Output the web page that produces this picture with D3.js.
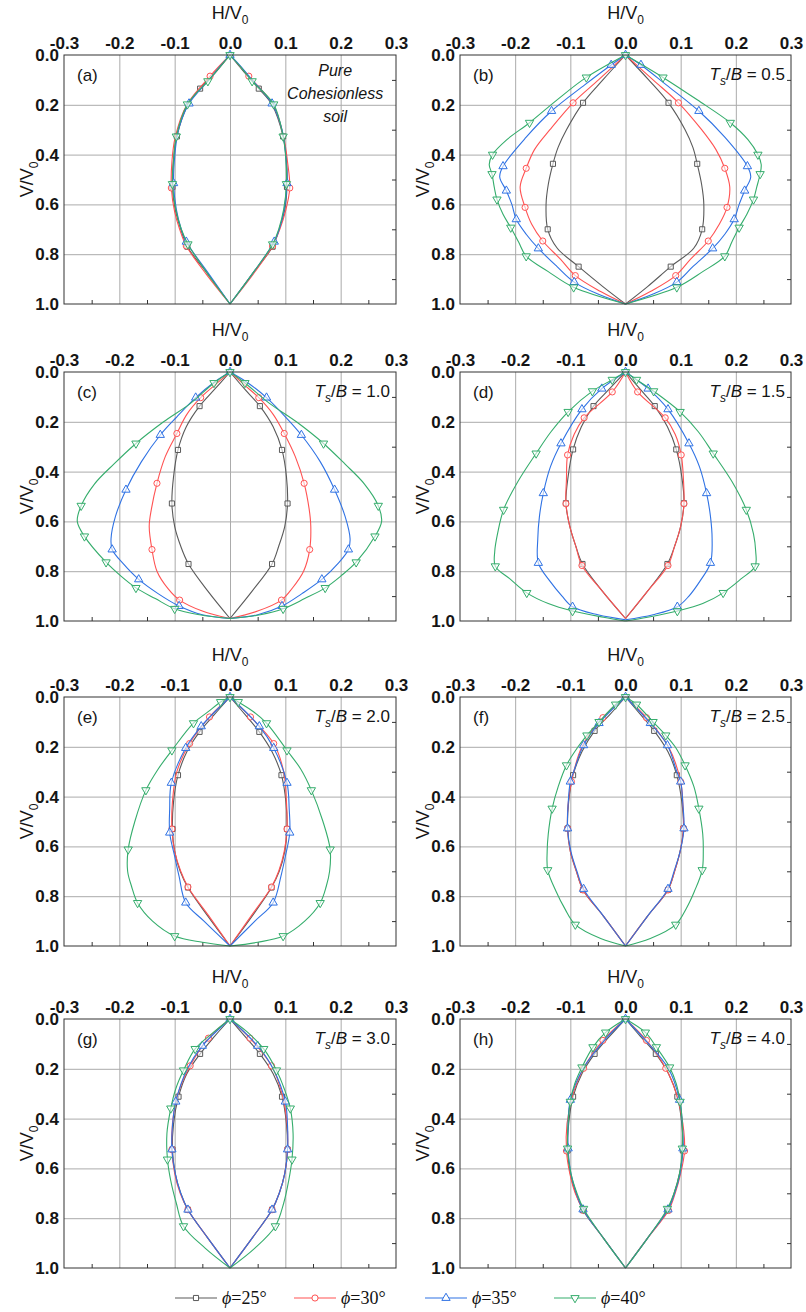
<!DOCTYPE html>
<html>
<head>
<meta charset="utf-8">
<script src="https://cdn.jsdelivr.net/npm/d3@7"></script>
<style>
  html, body { margin: 0; padding: 0; background: #fff; }
  svg { display: block; }
</style>
</head>
<body>
<div id="chart"></div>
<script>
// ---------------- DATA ----------------
const panelTags = ["(a)", "(b)", "(c)", "(d)", "(e)", "(f)", "(g)", "(h)"];
const tsbValues = [null, "0.5", "1.0", "1.5", "2.0", "2.5", "3.0", "4.0"];
const phiValues = ["25", "30", "35", "40"];
const xTicks = [-0.3, -0.2, -0.1, 0.0, 0.1, 0.2, 0.3];
const yTicks = [0.0, 0.2, 0.4, 0.6, 0.8, 1.0];
const xMinorTicks = [-0.25, -0.15, -0.05, 0.05, 0.15, 0.25];
const yMinorTicks = [0.1, 0.3, 0.5, 0.7, 0.9];
const pureSoilNote = ["Pure", "Cohesionless", "soil"];

// Each row: [V/V0, H/V0 (right branch), H/V0 (left branch), marker flag]
const phi25 = [
  [[0,0,0,0],[0.07,0.026,-0.026,0],[0.135,0.052,-0.054,1],[0.2,0.076,-0.076,0],[0.327,0.096,-0.096,1],[0.42,0.102,-0.102,0],[0.53,0.103,-0.104,1],[0.62,0.099,-0.099,0],[0.7,0.089,-0.089,0],[0.77,0.077,-0.077,1],[0.88,0.04,-0.04,0],[1,0,0,0]],
  [[0,0,0,0],[0.1,0.042,-0.041,0],[0.192,0.078,-0.077,1],[0.3,0.108,-0.107,0],[0.37,0.122,-0.122,0],[0.437,0.13,-0.1315,1],[0.52,0.138,-0.14,0],[0.6,0.142,-0.144,0],[0.7,0.139,-0.141,1],[0.775,0.124,-0.124,0],[0.85,0.082,-0.085,1],[0.93,0.04,-0.041,0],[1,0,0,0]],
  [[0,0,0,0],[0.07,0.027,-0.028,0],[0.137,0.054,-0.055,1],[0.22,0.078,-0.079,0],[0.313,0.094,-0.094,1],[0.42,0.102,-0.102,0],[0.528,0.104,-0.105,1],[0.62,0.099,-0.1,0],[0.7,0.088,-0.089,0],[0.771,0.076,-0.075,1],[0.88,0.04,-0.04,0],[0.99,0,0,0]],
  [[0,0,0,0],[0.07,0.027,-0.03,0],[0.137,0.053,-0.058,1],[0.22,0.076,-0.08,0],[0.311,0.092,-0.095,1],[0.42,0.102,-0.104,0],[0.527,0.106,-0.108,1],[0.62,0.1,-0.101,0],[0.7,0.089,-0.09,0],[0.771,0.076,-0.078,1],[0.88,0.04,-0.042,0],[0.99,0,0,0]],
  [[0,0,0,0],[0.07,0.027,-0.028,0],[0.14,0.053,-0.055,1],[0.22,0.076,-0.078,0],[0.314,0.093,-0.094,1],[0.42,0.101,-0.102,0],[0.53,0.103,-0.104,1],[0.62,0.099,-0.1,0],[0.7,0.089,-0.09,0],[0.765,0.075,-0.076,1],[0.88,0.04,-0.04,0],[1,0,0,0]],
  [[0,0,0,0],[0.07,0.027,-0.028,0],[0.136,0.052,-0.056,1],[0.22,0.077,-0.079,0],[0.314,0.093,-0.095,1],[0.42,0.102,-0.103,0],[0.528,0.105,-0.105,1],[0.62,0.099,-0.1,0],[0.7,0.089,-0.089,0],[0.775,0.077,-0.077,1],[0.88,0.04,-0.04,0],[1,0,0,0]],
  [[0,0,0,0],[0.07,0.027,-0.028,0],[0.14,0.054,-0.054,1],[0.22,0.078,-0.078,0],[0.312,0.094,-0.093,1],[0.42,0.102,-0.102,0],[0.524,0.104,-0.104,1],[0.62,0.099,-0.099,0],[0.7,0.089,-0.089,0],[0.766,0.076,-0.076,1],[0.88,0.04,-0.04,0],[1,0,0,0]],
  [[0,0,0,0],[0.07,0.027,-0.029,0],[0.14,0.055,-0.056,1],[0.22,0.078,-0.079,0],[0.312,0.094,-0.095,1],[0.42,0.102,-0.103,0],[0.528,0.104,-0.105,1],[0.62,0.098,-0.1,0],[0.7,0.088,-0.09,0],[0.768,0.076,-0.077,1],[0.88,0.04,-0.04,0],[1,0,0,0]]
];
const phi30 = [
  [[0,0,0,0],[0.085,0.034,-0.036,1],[0.2,0.078,-0.078,0],[0.33,0.097,-0.099,0],[0.43,0.104,-0.105,0],[0.534,0.108,-0.106,1],[0.63,0.1,-0.1,0],[0.7,0.09,-0.091,0],[0.767,0.077,-0.079,1],[0.88,0.042,-0.043,0],[1,0,0,0]],
  [[0,0,0,0],[0.1,0.05,-0.049,0],[0.192,0.096,-0.095,1],[0.3,0.138,-0.137,0],[0.38,0.164,-0.165,0],[0.455,0.18,-0.18,1],[0.53,0.189,-0.191,0],[0.612,0.184,-0.182,1],[0.68,0.17,-0.17,0],[0.747,0.15,-0.15,1],[0.82,0.118,-0.118,0],[0.886,0.091,-0.091,1],[0.95,0.045,-0.045,0],[1,0,0,0]],
  [[0,0,0,0],[0.05,0.025,-0.026,0],[0.103,0.052,-0.053,1],[0.17,0.078,-0.078,0],[0.247,0.098,-0.096,1],[0.34,0.118,-0.117,0],[0.447,0.134,-0.132,1],[0.55,0.143,-0.142,0],[0.62,0.146,-0.146,0],[0.713,0.144,-0.141,1],[0.8,0.133,-0.132,0],[0.87,0.112,-0.112,0],[0.916,0.093,-0.091,1],[0.96,0.05,-0.05,0],[0.99,0,0,0]],
  [[0,0,0,0],[0.08,0.022,-0.024,1],[0.184,0.072,-0.075,1],[0.25,0.09,-0.093,0],[0.333,0.101,-0.105,1],[0.43,0.105,-0.107,0],[0.529,0.106,-0.108,1],[0.62,0.1,-0.101,0],[0.7,0.089,-0.09,0],[0.777,0.077,-0.079,1],[0.88,0.04,-0.042,0],[0.99,0,0,0]],
  [[0,0,0,0],[0.08,0.037,-0.037,1],[0.187,0.079,-0.073,1],[0.3,0.097,-0.096,0],[0.42,0.102,-0.104,0],[0.53,0.103,-0.105,1],[0.62,0.098,-0.1,0],[0.7,0.088,-0.089,0],[0.763,0.075,-0.076,1],[0.88,0.038,-0.038,0],[1,0,0,0]],
  [[0,0,0,0],[0.083,0.038,-0.041,1],[0.2,0.078,-0.079,0],[0.34,0.1,-0.098,1],[0.43,0.104,-0.104,0],[0.528,0.105,-0.105,1],[0.62,0.099,-0.1,0],[0.7,0.089,-0.089,0],[0.775,0.077,-0.077,1],[0.88,0.04,-0.04,0],[1,0,0,0]],
  [[0,0,0,0],[0.077,0.036,-0.039,1],[0.188,0.075,-0.072,1],[0.3,0.094,-0.094,0],[0.42,0.103,-0.104,0],[0.524,0.104,-0.105,1],[0.62,0.099,-0.1,0],[0.7,0.089,-0.09,0],[0.766,0.076,-0.076,1],[0.88,0.04,-0.04,0],[1,0,0,0]],
  [[0,0,0,0],[0.086,0.038,-0.041,1],[0.198,0.073,-0.076,1],[0.3,0.092,-0.095,0],[0.42,0.104,-0.106,0],[0.53,0.107,-0.107,1],[0.62,0.1,-0.101,0],[0.7,0.09,-0.091,0],[0.769,0.078,-0.076,1],[0.88,0.04,-0.04,0],[1,0,0,0]]
];
const phi35 = [
  [[0,0,0,1],[0.04,0.017,-0.016,0],[0.1,0.04,-0.038,0],[0.195,0.076,-0.074,1],[0.3,0.094,-0.093,0],[0.41,0.101,-0.1,0],[0.515,0.103,-0.102,1],[0.62,0.098,-0.097,0],[0.7,0.089,-0.088,0],[0.75,0.08,-0.079,1],[0.88,0.04,-0.038,0],[1,0,0,0]],
  [[0,0,0,1],[0.04,0.028,-0.026,1],[0.12,0.074,-0.074,0],[0.225,0.133,-0.134,1],[0.33,0.18,-0.18,0],[0.447,0.221,-0.222,1],[0.49,0.227,-0.228,0],[0.545,0.216,-0.216,1],[0.6,0.206,-0.206,0],[0.66,0.197,-0.198,1],[0.72,0.18,-0.18,0],[0.777,0.158,-0.158,1],[0.85,0.122,-0.124,0],[0.912,0.093,-0.093,1],[0.96,0.05,-0.05,0],[1,0,0,0]],
  [[0,0,0,1],[0.04,0.03,-0.028,0],[0.103,0.066,-0.062,1],[0.18,0.1,-0.096,0],[0.253,0.129,-0.126,1],[0.36,0.163,-0.16,0],[0.473,0.189,-0.188,1],[0.58,0.208,-0.207,0],[0.67,0.217,-0.215,0],[0.713,0.214,-0.213,1],[0.77,0.195,-0.193,0],[0.833,0.166,-0.165,1],[0.89,0.13,-0.13,0],[0.94,0.094,-0.092,1],[0.975,0.05,-0.05,0],[0.99,0,0,0]],
  [[0,0,0,1],[0.067,0.041,-0.043,1],[0.15,0.077,-0.079,1],[0.287,0.115,-0.117,1],[0.38,0.134,-0.136,0],[0.487,0.147,-0.149,1],[0.58,0.154,-0.156,0],[0.67,0.157,-0.159,0],[0.767,0.154,-0.158,1],[0.84,0.135,-0.137,0],[0.9,0.115,-0.115,0],[0.943,0.094,-0.096,1],[0.975,0.05,-0.05,0],[0.995,0,0,0]],
  [[0,0,0,1],[0.118,0.053,-0.052,1],[0.205,0.079,-0.08,1],[0.345,0.103,-0.106,1],[0.45,0.107,-0.109,0],[0.545,0.108,-0.109,1],[0.64,0.1,-0.1,0],[0.72,0.092,-0.092,0],[0.826,0.078,-0.08,1],[0.9,0.045,-0.047,0],[1,0,0,0]],
  [[0,0,0,1],[0.105,0.045,-0.048,1],[0.194,0.076,-0.076,1],[0.3,0.093,-0.094,0],[0.34,0.1,-0.1,1],[0.43,0.104,-0.104,0],[0.528,0.106,-0.105,1],[0.62,0.099,-0.099,0],[0.7,0.088,-0.088,0],[0.771,0.077,-0.076,1],[0.88,0.04,-0.04,0],[1,0,0,0]],
  [[0,0,0,1],[0.108,0.05,-0.05,1],[0.2,0.078,-0.077,0],[0.332,0.1,-0.098,1],[0.43,0.104,-0.104,0],[0.524,0.104,-0.105,1],[0.62,0.099,-0.099,0],[0.7,0.089,-0.089,0],[0.766,0.076,-0.076,1],[0.88,0.04,-0.04,0],[1,0,0,0]],
  [[0,0,0,1],[0.08,0.034,-0.036,0],[0.2,0.078,-0.077,0],[0.325,0.098,-0.1,1],[0.42,0.103,-0.104,0],[0.52,0.104,-0.104,1],[0.62,0.099,-0.099,0],[0.7,0.089,-0.089,0],[0.765,0.077,-0.077,1],[0.88,0.04,-0.04,0],[1,0,0,0]]
];
const phi40 = [
  [[0,0,0,1],[0.05,0.02,-0.019,0],[0.105,0.04,-0.04,1],[0.198,0.079,-0.077,1],[0.327,0.096,-0.097,1],[0.42,0.101,-0.102,0],[0.518,0.102,-0.104,1],[0.62,0.097,-0.098,0],[0.7,0.088,-0.088,0],[0.76,0.077,-0.076,1],[0.88,0.04,-0.04,0],[1,0,0,0]],
  [[0,0,0,1],[0.09,0.068,-0.071,1],[0.18,0.13,-0.124,0],[0.272,0.19,-0.174,1],[0.34,0.222,-0.215,0],[0.4,0.24,-0.241,1],[0.44,0.246,-0.247,0],[0.478,0.244,-0.242,1],[0.53,0.238,-0.238,0],[0.58,0.232,-0.233,1],[0.64,0.22,-0.222,0],[0.693,0.206,-0.208,1],[0.75,0.193,-0.194,0],[0.808,0.18,-0.18,1],[0.87,0.14,-0.14,0],[0.933,0.093,-0.094,1],[1,0,0,0]],
  [[0,0,0,1],[0.044,0.027,-0.029,1],[0.127,0.072,-0.072,0],[0.2,0.12,-0.12,0],[0.287,0.169,-0.17,1],[0.37,0.208,-0.21,0],[0.45,0.243,-0.245,0],[0.537,0.268,-0.269,1],[0.6,0.274,-0.276,0],[0.66,0.262,-0.263,1],[0.764,0.228,-0.224,1],[0.82,0.2,-0.197,0],[0.867,0.172,-0.17,1],[0.91,0.135,-0.135,0],[0.951,0.096,-0.1,1],[0.975,0.055,-0.055,0],[0.99,0,0,0]],
  [[0,0,0,1],[0.031,0.02,-0.024,1],[0.077,0.051,-0.06,1],[0.16,0.099,-0.104,1],[0.24,0.132,-0.135,0],[0.327,0.159,-0.162,1],[0.44,0.193,-0.195,0],[0.553,0.219,-0.221,1],[0.65,0.232,-0.232,0],[0.72,0.236,-0.237,0],[0.78,0.235,-0.236,1],[0.83,0.21,-0.21,0],[0.887,0.177,-0.179,1],[0.93,0.14,-0.14,0],[0.96,0.094,-0.096,1],[0.985,0.04,-0.04,0],[1,0,0,0]],
  [[0,0,0,1],[0.02,0.015,-0.017,1],[0.06,0.043,-0.04,0],[0.105,0.066,-0.066,1],[0.214,0.103,-0.105,1],[0.29,0.128,-0.13,0],[0.374,0.147,-0.152,1],[0.5,0.168,-0.172,0],[0.612,0.181,-0.184,1],[0.7,0.18,-0.185,0],[0.76,0.174,-0.178,0],[0.827,0.163,-0.167,1],[0.9,0.135,-0.14,0],[0.96,0.096,-0.1,1],[0.985,0.05,-0.05,0],[1,0,0,0]],
  [[0,0,0,1],[0.03,0.02,-0.018,1],[0.1,0.05,-0.048,1],[0.154,0.073,-0.07,1],[0.2,0.09,-0.086,0],[0.274,0.108,-0.107,1],[0.36,0.124,-0.122,0],[0.448,0.133,-0.133,1],[0.55,0.14,-0.14,0],[0.62,0.141,-0.142,0],[0.695,0.139,-0.141,1],[0.78,0.125,-0.126,0],[0.85,0.11,-0.11,0],[0.914,0.091,-0.091,1],[0.97,0.045,-0.045,0],[1,0,0,0]],
  [[0,0,0,1],[0.05,0.03,-0.028,0],[0.12,0.061,-0.063,1],[0.206,0.084,-0.084,1],[0.28,0.098,-0.098,0],[0.359,0.109,-0.107,1],[0.46,0.114,-0.114,0],[0.564,0.112,-0.113,1],[0.65,0.106,-0.107,0],[0.74,0.097,-0.097,0],[0.832,0.082,-0.084,1],[0.92,0.045,-0.045,0],[1,0,0,0]],
  [[0,0,0,1],[0.054,0.036,-0.036,1],[0.113,0.056,-0.059,1],[0.194,0.08,-0.079,1],[0.26,0.092,-0.092,0],[0.332,0.099,-0.1,1],[0.42,0.103,-0.104,0],[0.52,0.103,-0.105,1],[0.62,0.098,-0.099,0],[0.7,0.088,-0.088,0],[0.762,0.076,-0.076,1],[0.88,0.04,-0.04,0],[1,0,0,0]]
];

// ---------------- STYLE / LAYOUT ----------------
const seriesData = [phi25, phi30, phi35, phi40];
const seriesColors = ["#5a5a5a", "#ff5252", "#2f72e4", "#35ad6c"];
const seriesSymbols = [d3.symbolSquare, d3.symbolCircle, d3.symbolTriangle, d3.symbolTriangle];
const seriesSymbolSize = [26, 30, 30, 30];
const seriesSymbolRotate = [0, 0, 0, 180];

const W = 806, H = 1312;
const colX = [64, 460];
const colW = [332, 331];
const rowY = [55, 372, 697, 1019];
const plotH = 249;
const sansFont = "'Liberation Sans', Arial, Helvetica, sans-serif";
const serifFont = "'Liberation Serif', 'Times New Roman', serif";
const textColor = "#151515";

const svg = d3.select("#chart").append("svg")
  .attr("width", W).attr("height", H)
  .attr("viewBox", `0 0 ${W} ${H}`);

const fmt = d => d.toFixed(1).replace("\u2212", "-");

panelTags.forEach((tag, p) => {
  const col = p % 2, row = Math.floor(p / 2);
  const w = colW[col], h = plotH;
  const g = svg.append("g").attr("transform", `translate(${colX[col]},${rowY[row]})`);
  const x = d3.scaleLinear().domain([-0.3, 0.3]).range([0, w]);
  const y = d3.scaleLinear().domain([0, 1]).range([0, h]);

  // gridlines
  g.append("g").attr("class", "grid")
    .call(d3.axisTop(x).tickValues(xTicks.slice(1, -1)).tickSize(-h).tickFormat(""))
    .call(s => s.select(".domain").remove())
    .call(s => s.selectAll("line").attr("stroke", "#ababab").attr("stroke-width", 1));
  g.append("g").attr("class", "grid")
    .call(d3.axisLeft(y).tickValues(yTicks.slice(1, -1)).tickSize(-w).tickFormat(""))
    .call(s => s.select(".domain").remove())
    .call(s => s.selectAll("line").attr("stroke", "#ababab").attr("stroke-width", 1));

  // minor inward ticks (bottom and right)
  g.append("g").attr("transform", `translate(0,${h})`)
    .call(d3.axisBottom(x).tickValues(xMinorTicks).tickSize(-4).tickFormat(""))
    .call(s => s.select(".domain").remove())
    .call(s => s.selectAll("line").attr("stroke", "#333"));
  g.append("g").attr("transform", `translate(${w},0)`)
    .call(d3.axisRight(y).tickValues(yMinorTicks).tickSize(-4).tickFormat(""))
    .call(s => s.select(".domain").remove())
    .call(s => s.selectAll("line").attr("stroke", "#333"));

  // top axis labels
  g.append("g")
    .call(d3.axisTop(x).tickValues(xTicks).tickSize(0).tickPadding(6).tickFormat(fmt))
    .call(s => s.select(".domain").remove())
    .call(s => s.selectAll("text").attr("font-family", sansFont).attr("font-size", 17)
      .attr("font-weight", "bold").attr("fill", textColor));
  // left axis labels
  g.append("g")
    .call(d3.axisLeft(y).tickValues(yTicks).tickSize(0).tickPadding(5).tickFormat(fmt))
    .call(s => s.select(".domain").remove())
    .call(s => s.selectAll("text").attr("font-family", sansFont).attr("font-size", 17)
      .attr("font-weight", "bold").attr("fill", textColor));

  // axis titles
  const xt = g.append("text").attr("x", w / 2).attr("y", -36)
    .attr("text-anchor", "middle").attr("font-family", sansFont).attr("font-size", 18).attr("fill", textColor);
  xt.append("tspan").text("H/V");
  xt.append("tspan").attr("dy", 5).attr("font-size", 12).text("0");

  const yt = g.append("text")
    .attr("transform", `translate(-31,${h / 2}) rotate(-90)`)
    .attr("text-anchor", "middle").attr("font-family", sansFont).attr("font-size", 18).attr("fill", textColor);
  yt.append("tspan").text("V/V");
  yt.append("tspan").attr("dy", 5).attr("font-size", 12).text("0");

  // curves
  const lineR = d3.line().x(d => x(d[1])).y(d => y(d[0])).curve(d3.curveCatmullRom.alpha(0.5));
  const lineL = d3.line().x(d => x(d[2])).y(d => y(d[0])).curve(d3.curveCatmullRom.alpha(0.5));
  const plot = g.append("g");
  seriesData.forEach((ser, s) => {
    const pts = ser[p];
    const sg = plot.append("g");
    sg.append("path").attr("d", lineR(pts)).attr("fill", "none")
      .attr("stroke", seriesColors[s]).attr("stroke-width", 1.1);
    sg.append("path").attr("d", lineL(pts)).attr("fill", "none")
      .attr("stroke", seriesColors[s]).attr("stroke-width", 1.1);
    const sym = d3.symbol().type(seriesSymbols[s]).size(seriesSymbolSize[s]);
    const marks = pts.filter(d => d[3] === 1);
    const mk = [];
    marks.forEach(d => {
      mk.push([d[0], d[1]]);
      if (d[2] !== d[1]) mk.push([d[0], d[2]]);
    });
    sg.selectAll("path.mk").data(mk).join("path").attr("class", "mk")
      .attr("d", sym)
      .attr("transform", d => `translate(${x(d[1])},${y(d[0])}) rotate(${seriesSymbolRotate[s]})`)
      .attr("fill", "#fff").attr("fill-opacity", 0.6)
      .attr("stroke", seriesColors[s]).attr("stroke-width", 1);
  });

  // frame
  g.append("rect").attr("x", 0).attr("y", 0).attr("width", w).attr("height", h)
    .attr("fill", "none").attr("stroke", "#333").attr("stroke-width", 1);

  // panel tag
  g.append("text").attr("x", 13).attr("y", 26)
    .attr("font-family", sansFont).attr("font-size", 17).attr("fill", textColor).text(tag);

  // Ts/B annotation
  if (tsbValues[p] !== null) {
    const t = g.append("text").attr("x", w - 6).attr("y", 25).attr("text-anchor", "end")
      .attr("font-family", sansFont).attr("font-size", 17).attr("fill", textColor);
    t.append("tspan").attr("font-style", "italic").text("T");
    t.append("tspan").attr("font-style", "italic").attr("font-size", 12).attr("dy", 5).text("s");
    t.append("tspan").attr("dy", -5).text("/");
    t.append("tspan").attr("font-style", "italic").text("B");
    t.append("tspan").text(" = " + tsbValues[p]);
  } else {
    const cx = x(0.19);
    pureSoilNote.forEach((ln, i) => {
      g.append("text").attr("x", cx).attr("y", 21 + i * 23).attr("text-anchor", "middle")
        .attr("font-family", sansFont).attr("font-size", 16).attr("font-style", "italic")
        .attr("fill", textColor).text(ln);
    });
  }
});

// legend
const legendX = [175, 294, 425, 554];
const legendY = 1298;
phiValues.forEach((v, s) => {
  const lg = svg.append("g").attr("transform", `translate(${legendX[s]},${legendY})`);
  lg.append("line").attr("x1", 0).attr("x2", 42).attr("y1", 0).attr("y2", 0)
    .attr("stroke", seriesColors[s]).attr("stroke-width", 1.1);
  lg.append("path").attr("d", d3.symbol().type(seriesSymbols[s]).size(seriesSymbolSize[s])())
    .attr("transform", `translate(21,0) rotate(${seriesSymbolRotate[s]})`)
    .attr("fill", "#fff").attr("stroke", seriesColors[s]).attr("stroke-width", 1);
  const t = lg.append("text").attr("x", 47).attr("y", 6)
    .attr("font-family", serifFont).attr("font-size", 18).attr("fill", "#111");
  t.append("tspan").attr("font-style", "italic").text("\u03D5");
  t.append("tspan").text("=" + v + "\u00B0");
});
</script>
</body>
</html>
